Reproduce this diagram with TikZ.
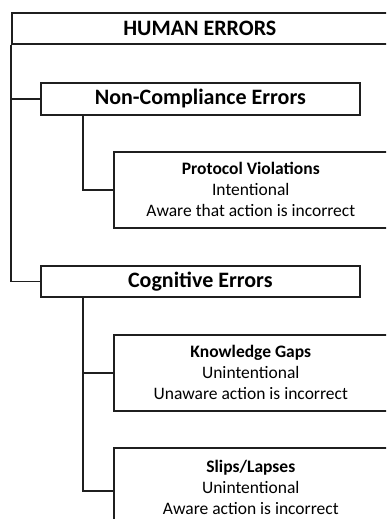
\documentclass[tikz,border=0pt]{standalone}
\usepackage{fontspec}
\setmainfont{Carlito}
\begin{document}
\begin{tikzpicture}[x=1pt,y=-1pt,
  headbox/.style={draw=black!88, line width=1.6pt, rectangle, inner sep=0pt, anchor=north west,
    font=\fontsize{22}{26}\selectfont\bfseries, align=center},
  leafbox/.style={draw=black!88, line width=1.6pt, rectangle, inner sep=0pt, anchor=north west,
    font=\fontsize{17.5}{21}\selectfont, align=center},
  link/.style={draw=black!88, line width=1.6pt}]
\useasboundingbox (0,0) rectangle (386,519);
\fill[white] (0,0) rectangle (386,519);
\clip (0,0) rectangle (386,519);

% category boxes
\node[headbox, minimum width=376pt, minimum height=31pt] (top) at (11,12) {HUMAN ERRORS};
\node[headbox, minimum width=319pt, minimum height=32pt] (nc) at (40,82) {Non-Compliance Errors};
\node[headbox, minimum width=319pt, minimum height=31pt] (cog) at (40,265) {Cognitive Errors};

% leaf boxes
\node[leafbox, minimum width=274pt, minimum height=76pt] (pv) at (113,151)
  {\textbf{Protocol Violations}\\Intentional\\Aware that action is incorrect};
\node[leafbox, minimum width=274pt, minimum height=76pt] (kg) at (113,334)
  {\textbf{Knowledge Gaps}\\Unintentional\\Unaware action is incorrect};
\node[leafbox, minimum width=274pt, minimum height=80pt] (sl) at (113,447)
  {\textbf{Slips/Lapses}\\Unintentional\\Aware action is incorrect};

% tree connectors
\draw[link] (top.south west) |- (nc.west);
\draw[link] (top.south west) |- (cog.west);
\draw[link] ([xshift=43pt]nc.south west) |- (pv.west);
\draw[link] ([xshift=43pt]cog.south west) |- (kg.west);
\draw[link] ([xshift=43pt]cog.south west) |- ([yshift=-3pt]sl.west);
\end{tikzpicture}
\end{document}
